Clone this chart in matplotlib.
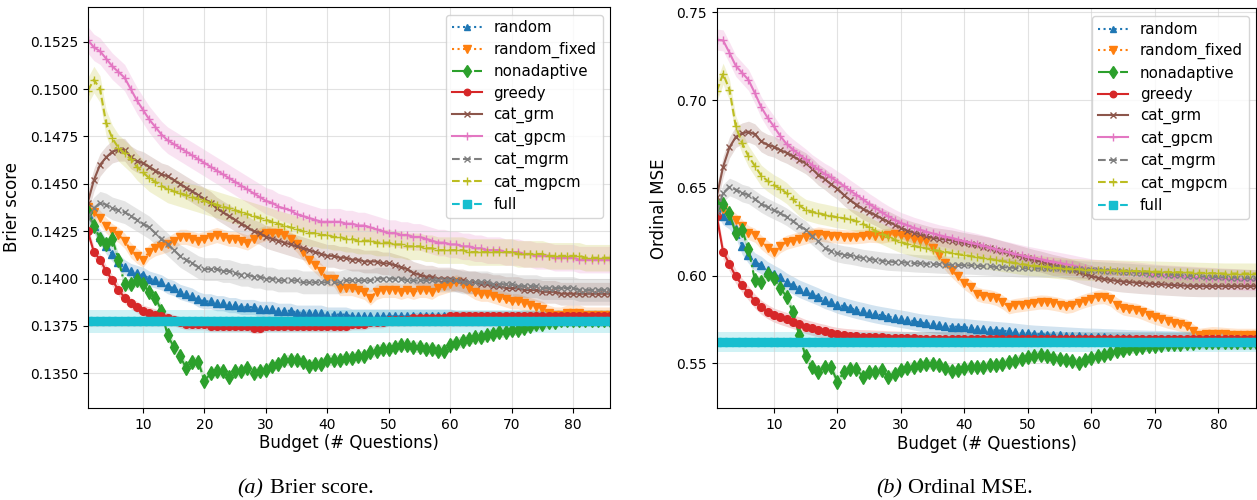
import numpy as np
import matplotlib.pyplot as plt

budget = list(range(1, 87))

labels = ['random', 'random_fixed', 'nonadaptive', 'greedy', 'cat_grm',
          'cat_gpcm', 'cat_mgrm', 'cat_mgpcm', 'full']

# ---- (a) Brier score ----
brier_random = [
    0.1434, 0.1428, 0.1422, 0.1417, 0.1413, 0.1409, 0.1406, 0.1404, 0.1403, 0.1402,
    0.1400, 0.1399, 0.1398, 0.1396, 0.1395, 0.1393, 0.1392, 0.1391, 0.1389, 0.1388,
    0.1388, 0.1387, 0.1387, 0.1386, 0.1386, 0.1385, 0.1385, 0.1385, 0.1384, 0.1384,
    0.1384, 0.1383, 0.1383, 0.1383, 0.1382, 0.1382, 0.1382, 0.1382, 0.1382, 0.1381,
    0.1381, 0.1381, 0.1381, 0.1380, 0.1380, 0.1380, 0.1380, 0.1380, 0.1380, 0.1380,
    0.1380, 0.1380, 0.1380, 0.1380, 0.1380, 0.1380, 0.1380, 0.1380, 0.1380, 0.1380,
    0.1379, 0.1379, 0.1379, 0.1379, 0.1379, 0.1379, 0.1379, 0.1379, 0.1379, 0.1379,
    0.1379, 0.1379, 0.1379, 0.1379, 0.1379, 0.1379, 0.1379, 0.1379, 0.1379, 0.1379,
    0.1379, 0.1379, 0.1379, 0.1379, 0.1379, 0.1379]
brier_random_fixed = [
    0.1438, 0.1435, 0.1432, 0.1428, 0.1425, 0.1423, 0.1420, 0.1415, 0.1412, 0.1410,
    0.1414, 0.1416, 0.1417, 0.1418, 0.1420, 0.1422, 0.1422, 0.1421, 0.1420, 0.1421,
    0.1422, 0.1423, 0.1422, 0.1421, 0.1421, 0.1420, 0.1419, 0.1421, 0.1423, 0.1424,
    0.1424, 0.1424, 0.1423, 0.1421, 0.1418, 0.1414, 0.1410, 0.1407, 0.1404, 0.1400,
    0.1400, 0.1395, 0.1395, 0.1395, 0.1394, 0.1393, 0.1390, 0.1393, 0.1394, 0.1394,
    0.1394, 0.1393, 0.1394, 0.1393, 0.1394, 0.1394, 0.1393, 0.1395, 0.1396, 0.1397,
    0.1398, 0.1397, 0.1395, 0.1393, 0.1392, 0.1392, 0.1391, 0.1390, 0.1389, 0.1388,
    0.1388, 0.1387, 0.1386, 0.1385, 0.1384, 0.1382, 0.1381, 0.1381, 0.1382, 0.1382,
    0.1382, 0.1381, 0.1381, 0.1381, 0.1381, 0.1381]
brier_nonadaptive = [
    0.1435, 0.1428, 0.1421, 0.1418, 0.1421, 0.1410, 0.1397, 0.1397, 0.1399, 0.1397,
    0.1393, 0.1390, 0.1383, 0.1370, 0.1364, 0.1359, 0.1353, 0.1356, 0.1356, 0.1346,
    0.1350, 0.1351, 0.1351, 0.1348, 0.1351, 0.1351, 0.1353, 0.1350, 0.1351, 0.1352,
    0.1354, 0.1355, 0.1357, 0.1357, 0.1357, 0.1356, 0.1354, 0.1355, 0.1355, 0.1357,
    0.1357, 0.1357, 0.1358, 0.1358, 0.1359, 0.1359, 0.1361, 0.1362, 0.1363, 0.1363,
    0.1364, 0.1365, 0.1365, 0.1364, 0.1364, 0.1363, 0.1363, 0.1362, 0.1362, 0.1365,
    0.1366, 0.1367, 0.1368, 0.1369, 0.1369, 0.1370, 0.1371, 0.1372, 0.1372, 0.1373,
    0.1373, 0.1374, 0.1375, 0.1376, 0.1376, 0.1377, 0.1377, 0.1378, 0.1378, 0.1378,
    0.1378, 0.1378, 0.1378, 0.1378, 0.1378, 0.1378]
brier_greedy = [
    0.1425, 0.1414, 0.1410, 0.1404, 0.1399, 0.1394, 0.1390, 0.1387, 0.1385, 0.1383,
    0.1382, 0.1381, 0.1380, 0.1379, 0.1378, 0.1377, 0.1376, 0.1376, 0.1376, 0.1376,
    0.1375, 0.1375, 0.1375, 0.1375, 0.1375, 0.1375, 0.1375, 0.1374, 0.1374, 0.1375,
    0.1375, 0.1375, 0.1375, 0.1375, 0.1375, 0.1375, 0.1375, 0.1375, 0.1375, 0.1375,
    0.1375, 0.1375, 0.1375, 0.1376, 0.1376, 0.1376, 0.1377, 0.1377, 0.1377, 0.1378,
    0.1378, 0.1378, 0.1378, 0.1379, 0.1379, 0.1379, 0.1379, 0.1379, 0.1379, 0.1380,
    0.1380, 0.1380, 0.1380, 0.1380, 0.1380, 0.1380, 0.1380, 0.1380, 0.1380, 0.1380,
    0.1380, 0.1380, 0.1380, 0.1380, 0.1380, 0.1380, 0.1380, 0.1380, 0.1380, 0.1380,
    0.1380, 0.1380, 0.1380, 0.1380, 0.1380, 0.1380]
brier_cat_grm = [
    0.1440, 0.1452, 0.1460, 0.1464, 0.1467, 0.1468, 0.1468, 0.1464, 0.1462, 0.1461,
    0.1459, 0.1457, 0.1455, 0.1454, 0.1452, 0.1450, 0.1448, 0.1446, 0.1444, 0.1442,
    0.1440, 0.1437, 0.1435, 0.1433, 0.1431, 0.1429, 0.1427, 0.1425, 0.1424, 0.1422,
    0.1421, 0.1420, 0.1419, 0.1418, 0.1417, 0.1416, 0.1415, 0.1414, 0.1413, 0.1412,
    0.1412, 0.1411, 0.1411, 0.1410, 0.1410, 0.1409, 0.1409, 0.1409, 0.1408, 0.1408,
    0.1407, 0.1406, 0.1405, 0.1403, 0.1402, 0.1401, 0.1401, 0.1400, 0.1400, 0.1400,
    0.1399, 0.1399, 0.1398, 0.1398, 0.1397, 0.1397, 0.1396, 0.1396, 0.1395, 0.1395,
    0.1395, 0.1394, 0.1394, 0.1394, 0.1393, 0.1393, 0.1393, 0.1392, 0.1392, 0.1392,
    0.1392, 0.1392, 0.1392, 0.1392, 0.1392, 0.1392]
brier_cat_gpcm = [
    0.1526, 0.1522, 0.1520, 0.1516, 0.1512, 0.1509, 0.1506, 0.1500, 0.1494, 0.1489,
    0.1484, 0.1480, 0.1476, 0.1473, 0.1471, 0.1469, 0.1467, 0.1465, 0.1463, 0.1461,
    0.1459, 0.1457, 0.1455, 0.1453, 0.1451, 0.1449, 0.1447, 0.1445, 0.1443, 0.1441,
    0.1440, 0.1438, 0.1437, 0.1436, 0.1434, 0.1433, 0.1432, 0.1431, 0.1430, 0.1430,
    0.1430, 0.1430, 0.1429, 0.1429, 0.1428, 0.1428, 0.1427, 0.1426, 0.1425, 0.1424,
    0.1424, 0.1423, 0.1423, 0.1422, 0.1422, 0.1421, 0.1420, 0.1419, 0.1419, 0.1418,
    0.1418, 0.1417, 0.1417, 0.1416, 0.1416, 0.1415, 0.1415, 0.1415, 0.1414, 0.1414,
    0.1414, 0.1413, 0.1413, 0.1412, 0.1412, 0.1412, 0.1411, 0.1411, 0.1411, 0.1411,
    0.1410, 0.1410, 0.1410, 0.1410, 0.1410, 0.1410]
brier_cat_mgrm = [
    0.1432, 0.1437, 0.1440, 0.1439, 0.1437, 0.1436, 0.1435, 0.1433, 0.1431, 0.1429,
    0.1427, 0.1424, 0.1421, 0.1418, 0.1415, 0.1412, 0.1410, 0.1408, 0.1406, 0.1405,
    0.1405, 0.1405, 0.1404, 0.1404, 0.1403, 0.1402, 0.1402, 0.1401, 0.1401, 0.1400,
    0.1400, 0.1399, 0.1399, 0.1399, 0.1399, 0.1398, 0.1398, 0.1398, 0.1398, 0.1398,
    0.1398, 0.1398, 0.1399, 0.1399, 0.1399, 0.1399, 0.1399, 0.1400, 0.1400, 0.1400,
    0.1400, 0.1400, 0.1399, 0.1399, 0.1399, 0.1399, 0.1399, 0.1399, 0.1399, 0.1399,
    0.1399, 0.1398, 0.1398, 0.1398, 0.1398, 0.1398, 0.1397, 0.1397, 0.1397, 0.1397,
    0.1396, 0.1396, 0.1396, 0.1396, 0.1395, 0.1395, 0.1395, 0.1395, 0.1395, 0.1395,
    0.1394, 0.1394, 0.1394, 0.1394, 0.1394, 0.1394]
brier_cat_mgpcm = [
    0.1499, 0.1505, 0.1500, 0.1482, 0.1474, 0.1469, 0.1466, 0.1463, 0.1459, 0.1456,
    0.1453, 0.1451, 0.1449, 0.1447, 0.1446, 0.1445, 0.1444, 0.1443, 0.1442, 0.1441,
    0.1440, 0.1439, 0.1438, 0.1437, 0.1436, 0.1435, 0.1434, 0.1433, 0.1432, 0.1431,
    0.1430, 0.1429, 0.1428, 0.1427, 0.1426, 0.1425, 0.1424, 0.1424, 0.1423, 0.1423,
    0.1422, 0.1422, 0.1421, 0.1421, 0.1420, 0.1420, 0.1420, 0.1419, 0.1419, 0.1419,
    0.1418, 0.1418, 0.1417, 0.1417, 0.1417, 0.1416, 0.1416, 0.1415, 0.1415, 0.1415,
    0.1415, 0.1415, 0.1414, 0.1414, 0.1414, 0.1414, 0.1414, 0.1414, 0.1414, 0.1414,
    0.1413, 0.1413, 0.1413, 0.1413, 0.1413, 0.1412, 0.1412, 0.1412, 0.1412, 0.1412,
    0.1412, 0.1411, 0.1411, 0.1411, 0.1411, 0.1411]
brier_full = [0.13775] * 86
brier_spread = [0.0004, 0.0004, 0.0003, 0.0003, 0.0006, 0.0007, 0.0006, 0.0007, 0.0006]

# ---- (b) Ordinal MSE ----
mse_random = [
    0.6395, 0.6340, 0.6315, 0.6265, 0.6170, 0.6120, 0.6080, 0.6060, 0.6030, 0.6010,
    0.5990, 0.5965, 0.5945, 0.5925, 0.5910, 0.5895, 0.5880, 0.5862, 0.5850, 0.5835,
    0.5825, 0.5815, 0.5805, 0.5797, 0.5788, 0.5780, 0.5773, 0.5767, 0.5760, 0.5754,
    0.5748, 0.5740, 0.5733, 0.5728, 0.5724, 0.5720, 0.5715, 0.5710, 0.5708, 0.5706,
    0.5702, 0.5698, 0.5695, 0.5692, 0.5689, 0.5686, 0.5683, 0.5679, 0.5675, 0.5671,
    0.5668, 0.5666, 0.5664, 0.5662, 0.5660, 0.5658, 0.5656, 0.5654, 0.5652, 0.5651,
    0.5650, 0.5648, 0.5647, 0.5645, 0.5644, 0.5642, 0.5641, 0.5640, 0.5639, 0.5638,
    0.5637, 0.5636, 0.5635, 0.5634, 0.5634, 0.5633, 0.5633, 0.5632, 0.5632, 0.5631,
    0.5631, 0.5631, 0.5630, 0.5630, 0.5630, 0.5630]
mse_random_fixed = [
    0.6410, 0.6380, 0.6340, 0.6315, 0.6280, 0.6245, 0.6230, 0.6190, 0.6160, 0.6135,
    0.6170, 0.6190, 0.6200, 0.6210, 0.6220, 0.6230, 0.6238, 0.6232, 0.6228, 0.6225,
    0.6222, 0.6220, 0.6222, 0.6225, 0.6230, 0.6228, 0.6225, 0.6230, 0.6235, 0.6232,
    0.6220, 0.6210, 0.6203, 0.6195, 0.6160, 0.6120, 0.6070, 0.6030, 0.5995, 0.5960,
    0.5935, 0.5895, 0.5885, 0.5880, 0.5870, 0.5850, 0.5822, 0.5830, 0.5835, 0.5840,
    0.5845, 0.5850, 0.5848, 0.5842, 0.5835, 0.5825, 0.5830, 0.5845, 0.5858, 0.5868,
    0.5878, 0.5880, 0.5865, 0.5835, 0.5815, 0.5808, 0.5803, 0.5790, 0.5775, 0.5762,
    0.5752, 0.5740, 0.5732, 0.5722, 0.5712, 0.5685, 0.5660, 0.5665, 0.5670, 0.5668,
    0.5665, 0.5662, 0.5660, 0.5660, 0.5660, 0.5660]
mse_nonadaptive = [
    0.6400, 0.6410, 0.6355, 0.6240, 0.6260, 0.6150, 0.5975, 0.5965, 0.6010, 0.5985,
    0.5930, 0.5880, 0.5790, 0.5660, 0.5540, 0.5480, 0.5450, 0.5480, 0.5480, 0.5395,
    0.5450, 0.5470, 0.5470, 0.5423, 0.5450, 0.5450, 0.5460, 0.5423, 0.5442, 0.5460,
    0.5475, 0.5480, 0.5488, 0.5495, 0.5498, 0.5488, 0.5475, 0.5455, 0.5460, 0.5475,
    0.5478, 0.5480, 0.5482, 0.5488, 0.5492, 0.5498, 0.5505, 0.5515, 0.5525, 0.5535,
    0.5540, 0.5545, 0.5542, 0.5530, 0.5525, 0.5520, 0.5512, 0.5500, 0.5520, 0.5530,
    0.5540, 0.5548, 0.5560, 0.5570, 0.5578, 0.5585, 0.5590, 0.5595, 0.5598, 0.5600,
    0.5605, 0.5608, 0.5610, 0.5613, 0.5615, 0.5618, 0.5620, 0.5621, 0.5622, 0.5622,
    0.5623, 0.5623, 0.5623, 0.5623, 0.5623, 0.5623]
mse_greedy = [
    0.6340, 0.6135, 0.6065, 0.5995, 0.5945, 0.5900, 0.5855, 0.5820, 0.5795, 0.5775,
    0.5762, 0.5750, 0.5738, 0.5725, 0.5710, 0.5700, 0.5690, 0.5682, 0.5672, 0.5665,
    0.5660, 0.5657, 0.5654, 0.5652, 0.5651, 0.5649, 0.5648, 0.5646, 0.5645, 0.5643,
    0.5642, 0.5642, 0.5641, 0.5641, 0.5641, 0.5640, 0.5640, 0.5640, 0.5640, 0.5640,
    0.5640, 0.5640, 0.5640, 0.5640, 0.5640, 0.5639, 0.5639, 0.5639, 0.5639, 0.5639,
    0.5639, 0.5639, 0.5639, 0.5639, 0.5639, 0.5639, 0.5639, 0.5639, 0.5639, 0.5639,
    0.5638, 0.5638, 0.5638, 0.5638, 0.5638, 0.5638, 0.5638, 0.5638, 0.5638, 0.5638,
    0.5637, 0.5637, 0.5637, 0.5637, 0.5637, 0.5637, 0.5637, 0.5637, 0.5637, 0.5637,
    0.5636, 0.5636, 0.5636, 0.5636, 0.5636, 0.5636]
mse_cat_grm = [
    0.6450, 0.6620, 0.6730, 0.6790, 0.6810, 0.6820, 0.6805, 0.6765, 0.6745, 0.6735,
    0.6715, 0.6700, 0.6680, 0.6660, 0.6640, 0.6610, 0.6575, 0.6550, 0.6520, 0.6495,
    0.6460, 0.6430, 0.6405, 0.6380, 0.6362, 0.6345, 0.6325, 0.6308, 0.6290, 0.6272,
    0.6257, 0.6245, 0.6235, 0.6225, 0.6215, 0.6210, 0.6205, 0.6200, 0.6192, 0.6185,
    0.6178, 0.6172, 0.6165, 0.6158, 0.6148, 0.6138, 0.6128, 0.6118, 0.6108, 0.6098,
    0.6088, 0.6080, 0.6070, 0.6060, 0.6052, 0.6043, 0.6032, 0.6020, 0.6008, 0.5997,
    0.5988, 0.5980, 0.5975, 0.5970, 0.5966, 0.5963, 0.5960, 0.5957, 0.5955, 0.5952,
    0.5950, 0.5948, 0.5946, 0.5944, 0.5942, 0.5941, 0.5940, 0.5940, 0.5940, 0.5940,
    0.5940, 0.5940, 0.5940, 0.5940, 0.5940, 0.5940]
mse_cat_gpcm = [
    0.7345, 0.7340, 0.7270, 0.7195, 0.7155, 0.7115, 0.7040, 0.6960, 0.6900, 0.6850,
    0.6795, 0.6750, 0.6718, 0.6690, 0.6662, 0.6630, 0.6605, 0.6580, 0.6560, 0.6535,
    0.6512, 0.6485, 0.6460, 0.6435, 0.6408, 0.6385, 0.6360, 0.6338, 0.6318, 0.6300,
    0.6287, 0.6273, 0.6262, 0.6250, 0.6240, 0.6230, 0.6222, 0.6215, 0.6205, 0.6195,
    0.6188, 0.6180, 0.6170, 0.6160, 0.6150, 0.6140, 0.6132, 0.6123, 0.6115, 0.6107,
    0.6100, 0.6093, 0.6086, 0.6079, 0.6072, 0.6065, 0.6058, 0.6050, 0.6043, 0.6036,
    0.6032, 0.6030, 0.6028, 0.6025, 0.6023, 0.6021, 0.6018, 0.6014, 0.6010, 0.6006,
    0.6003, 0.6001, 0.5999, 0.5997, 0.5995, 0.5993, 0.5991, 0.5989, 0.5987, 0.5985,
    0.5983, 0.5981, 0.5979, 0.5977, 0.5976, 0.5975]
mse_cat_mgrm = [
    0.6360, 0.6470, 0.6505, 0.6490, 0.6470, 0.6460, 0.6435, 0.6410, 0.6390, 0.6372,
    0.6355, 0.6335, 0.6310, 0.6285, 0.6262, 0.6225, 0.6195, 0.6160, 0.6140, 0.6128,
    0.6120, 0.6115, 0.6108, 0.6100, 0.6095, 0.6090, 0.6085, 0.6080, 0.6078, 0.6076,
    0.6074, 0.6071, 0.6069, 0.6068, 0.6066, 0.6064, 0.6062, 0.6061, 0.6060, 0.6059,
    0.6058, 0.6056, 0.6054, 0.6052, 0.6050, 0.6048, 0.6046, 0.6044, 0.6042, 0.6041,
    0.6041, 0.6041, 0.6041, 0.6041, 0.6041, 0.6040, 0.6038, 0.6036, 0.6034, 0.6032,
    0.6030, 0.6028, 0.6026, 0.6024, 0.6022, 0.6020, 0.6017, 0.6015, 0.6012, 0.6010,
    0.6008, 0.6006, 0.6004, 0.6002, 0.6000, 0.5998, 0.5996, 0.5994, 0.5993, 0.5991,
    0.5990, 0.5989, 0.5988, 0.5986, 0.5985, 0.5984]
mse_cat_mgpcm = [
    0.7050, 0.7150, 0.7060, 0.6850, 0.6755, 0.6680, 0.6625, 0.6570, 0.6540, 0.6515,
    0.6495, 0.6470, 0.6435, 0.6400, 0.6375, 0.6365, 0.6355, 0.6348, 0.6340, 0.6332,
    0.6327, 0.6320, 0.6310, 0.6295, 0.6275, 0.6255, 0.6238, 0.6222, 0.6205, 0.6190,
    0.6180, 0.6170, 0.6162, 0.6155, 0.6148, 0.6142, 0.6135, 0.6130, 0.6122, 0.6117,
    0.6111, 0.6106, 0.6100, 0.6095, 0.6089, 0.6083, 0.6078, 0.6072, 0.6066, 0.6061,
    0.6057, 0.6053, 0.6050, 0.6046, 0.6042, 0.6040, 0.6038, 0.6036, 0.6034, 0.6032,
    0.6031, 0.6030, 0.6030, 0.6029, 0.6028, 0.6027, 0.6026, 0.6025, 0.6024, 0.6023,
    0.6022, 0.6021, 0.6020, 0.6019, 0.6018, 0.6017, 0.6016, 0.6015, 0.6014, 0.6013,
    0.6012, 0.6012, 0.6012, 0.6012, 0.6012, 0.6012]
mse_full = [0.5622] * 86
mse_spread = [0.005, 0.004, 0.003, 0.004, 0.006, 0.006, 0.005, 0.006, 0.0055]

brier_series = [brier_random, brier_random_fixed, brier_nonadaptive, brier_greedy,
                brier_cat_grm, brier_cat_gpcm, brier_cat_mgrm, brier_cat_mgpcm, brier_full]
mse_series = [mse_random, mse_random_fixed, mse_nonadaptive, mse_greedy,
              mse_cat_grm, mse_cat_gpcm, mse_cat_mgrm, mse_cat_mgpcm, mse_full]

colors = ['C0', 'C1', 'C2', 'C3', 'C5', 'C6', 'C7', 'C8', 'C9']
markers = ['^', 'v', 'd', 'o', 'x', '+', 'x', '+', 's']
styles = [':', ':', '-.', '-', '-', '-', '--', '--', '--']
msizes = [5.5, 6, 7, 5.5, 4.5, 6, 4.5, 6, 6]


def draw(ax, series, spread, ylabel, ylim, yfmt):
    x = np.array(budget)
    for y, s, lab, c, m, ls, ms in zip(series, spread, labels, colors, markers,
                                       styles, msizes):
        y = np.array(y)
        ax.fill_between(x, y - s, y + s, color=c, alpha=0.2, linewidth=0)
        ax.plot(x, y, color=c, marker=m, linestyle=ls, label=lab,
                markersize=ms, linewidth=1.5)
    ax.set_xlim(1, 86)
    ax.set_ylim(*ylim)
    ax.set_xticks([10, 20, 30, 40, 50, 60, 70, 80])
    ax.yaxis.set_major_formatter(plt.FormatStrFormatter(yfmt))
    ax.grid(True, color='#d0d0d0', alpha=0.6, linewidth=0.8)
    ax.tick_params(labelsize=10)
    ax.set_xlabel('Budget (# Questions)', fontsize=12, labelpad=2)
    ax.set_ylabel(ylabel, fontsize=12, labelpad=6)
    ax.legend(loc='upper right', fontsize=10.8, labelspacing=0.42, markerscale=0.85)


fig = plt.figure(figsize=(12.57, 5.0), dpi=100)
ax1 = fig.add_axes([0.0698, 0.184, 0.4155, 0.802])
ax2 = fig.add_axes([0.5702, 0.1834, 0.4294, 0.800])

draw(ax1, brier_series, brier_spread, 'Brier score', (0.13317, 0.15433), '%.4f')
ax1.set_yticks([0.1350, 0.1375, 0.1400, 0.1425, 0.1450, 0.1475, 0.1500, 0.1525])
draw(ax2, mse_series, mse_spread, 'Ordinal MSE', (0.5244, 0.7523), '%.2f')
ax2.set_yticks([0.55, 0.60, 0.65, 0.70, 0.75])

serif = 'Liberation Serif'
fig.text(263 / 1257, 0.014, '(a)', ha='right', va='baseline', fontsize=16,
         family=serif, style='italic')
fig.text(270 / 1257, 0.014, 'Brier score.', ha='left', va='baseline', fontsize=16,
         family=serif)
fig.text(902 / 1257, 0.014, '(b)', ha='right', va='baseline', fontsize=16,
         family=serif, style='italic')
fig.text(908 / 1257, 0.014, 'Ordinal MSE.', ha='left', va='baseline', fontsize=16,
         family=serif)

fig.savefig('out.png', dpi=100)
